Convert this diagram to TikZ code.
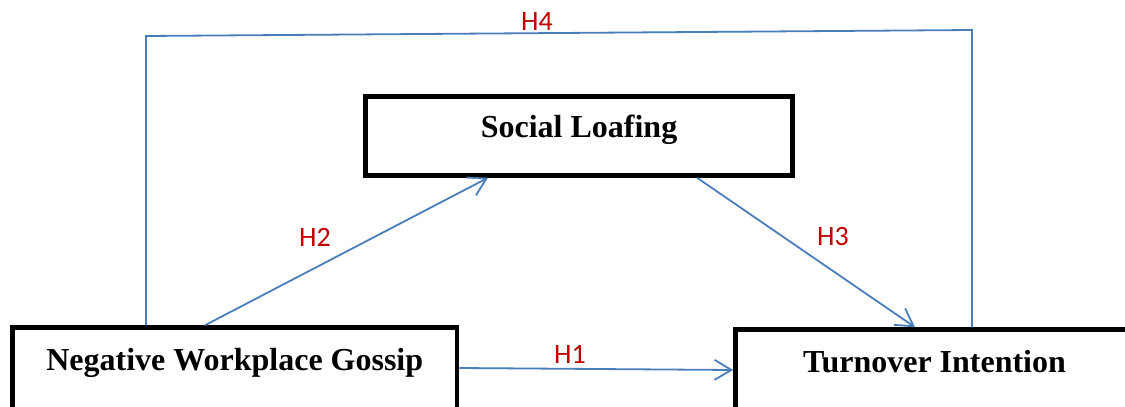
\documentclass[tikz,border=0pt]{standalone}
\usepackage{fontspec}
\setmainfont{Liberation Serif}
\newfontfamily\calibrifont{Carlito}
\usetikzlibrary{arrows.meta}
\definecolor{linkblue}{HTML}{4A7EBB}
\definecolor{hypred}{HTML}{C00000}

\begin{document}
\begin{tikzpicture}[x=1pt, y=-1pt,
	construct/.style={draw, line width=4.5pt, inner sep=0pt, text height=22pt, text depth=20pt, font=\fontsize{32}{38}\selectfont\bfseries},
	link/.style={draw=linkblue, line width=1.8pt},
	hyp/.style={inner sep=0pt, text=hypred, font=\calibrifont\fontsize{28}{34}\selectfont},
	>={Straight Barb[length=17pt,width=20pt]}]
	\useasboundingbox (0,0) rectangle (1125,407);
	\clip (0,0) rectangle (1125,407);
	\node[construct, minimum width=427pt, minimum height=79pt] (loafing) at (579,136) {Social Loafing};
	\node[construct, minimum width=444.5pt, minimum height=83pt] (gossip) at (234.75,369) {Negative Workplace Gossip};
	\node[construct, minimum width=398pt, minimum height=83pt] (turnover) at (934.5,371) {Turnover Intention};
	\coordinate (h4left) at (146,36);
	\coordinate (h4right) at (972,30);
	\draw[link]
		([xshift=-88.75pt]gossip.north) -- (h4left) -- (h4right) -- ([xshift=37.5pt]turnover.north)
		;
	\draw[link,->] ([xshift=-29.75pt]gossip.north) -- ([xshift=-91pt]loafing.south);
	\draw[link,->] ([xshift=118pt]loafing.south) -- ([xshift=-19.5pt]turnover.north);
	\draw[link,->] ([yshift=1pt]gossip.east) -- ([yshift=1pt]turnover.west);
	\node[hyp] (h4) at (537,22) {H4};
	\node[hyp] (h2) at (315,237) {H2};
	\node[hyp] (h3) at (833,237) {H3};
	\node[hyp] (h1) at (570,354) {H1};
\end{tikzpicture}
\end{document}
